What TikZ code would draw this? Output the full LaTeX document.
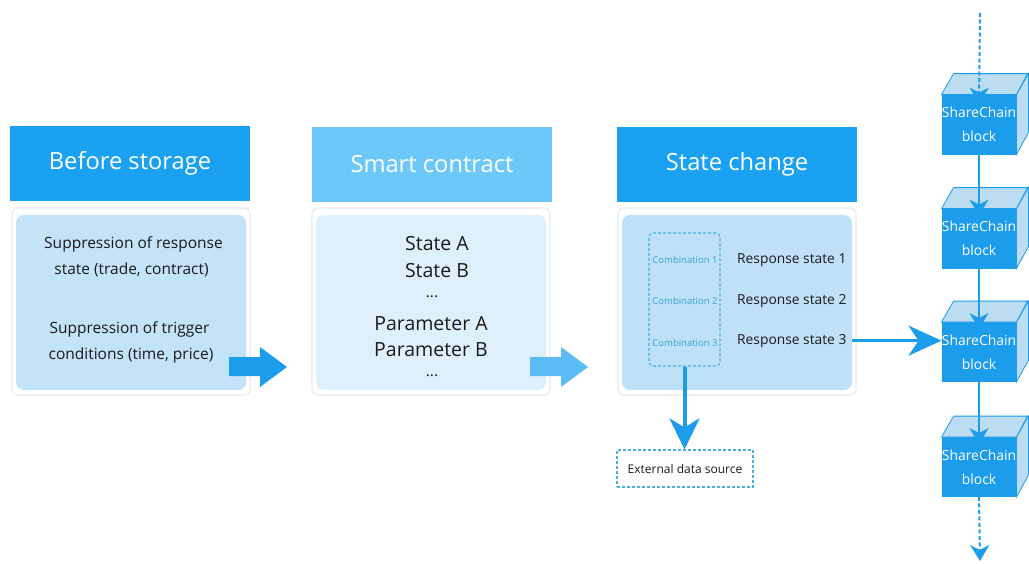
\documentclass[tikz,border=0pt]{standalone}
\usepackage{fontspec}
\setmainfont{Open Sans}
\usetikzlibrary{arrows.meta,calc}
\definecolor{hdrA}{HTML}{1BA1F1}
\definecolor{hdrB}{HTML}{6CC8F8}
\definecolor{inA}{HTML}{C3E3F8}
\definecolor{inB}{HTML}{DDF0FC}
\definecolor{inC}{HTML}{BFE1F7}
\definecolor{frameC}{HTML}{E6ECF1}
\definecolor{blueL}{HTML}{1C9DEB}
\definecolor{blueM}{HTML}{5BBDF3}
\definecolor{dashC}{HTML}{4AAEE0}
\definecolor{combC}{HTML}{3AA0D8}
\definecolor{cubeS}{HTML}{BCDCF2}
\definecolor{txt}{HTML}{1A1A1A}
\tikzset{
  hdr/.style={rectangle, inner sep=0pt, outer sep=0pt, minimum width=240pt, minimum height=75pt, text=white, font=\fontsize{23.7}{28}\selectfont},
  outerbox/.style={rectangle, rounded corners=6pt, draw=frameC, line width=1.2pt, fill=white, inner sep=0pt, minimum width=238pt, minimum height=187pt},
  innerbox/.style={rectangle, rounded corners=8pt, inner sep=0pt, minimum width=230pt, minimum height=175pt},
  bodyA/.style={anchor=base, inner sep=0pt, text=txt, font=\fontsize{15.5}{18}\selectfont},
  bodyB/.style={anchor=base, inner sep=0pt, text=txt, font=\fontsize{19.5}{22}\selectfont},
  resp/.style={anchor=base west, inner sep=0pt, text=txt, font=\fontsize{13.8}{16}\selectfont},
  comb/.style={anchor=base, inner sep=0pt, text=combC, font=\fontsize{9.5}{11}\selectfont},
  dashbox/.style={rectangle, draw=dashC, line width=1.1pt, dash pattern=on 3pt off 2pt},
  cubefront/.style={rectangle, fill=blueL, draw=blueL, line width=0.8pt, inner sep=0pt, minimum width=74pt, minimum height=59pt, text=white, align=center, font=\fontsize{13.9}{24}\selectfont},
  cubeface/.style={fill=cubeS, draw=blueL, line width=0.8pt},
  bigarrow/.style={draw=blueL, line width=3pt, -{Stealth[length=33pt,width=30pt,inset=10pt]}},
  chainarrow/.style={draw=blueL, line width=2pt, -{Stealth[length=16pt,width=19pt,inset=5pt]}},
  chaindash/.style={chainarrow, dash pattern=on 4pt off 2.5pt}
}
\begin{document}
\begin{tikzpicture}[x=1pt,y=-1pt]
\useasboundingbox (0,0) rectangle (1029,563);
\fill[white] (0,0) rectangle (1029,563);

% headers
\node[hdr, fill=hdrA] (h1) at (130,163.5) {Before storage};
\node[hdr, fill=hdrB] (h2) at (432,164) {Smart contract};
\node[hdr, fill=hdrA] (h3) at (737,164) {State change};

% content boxes
\node[outerbox] (o1) at (131,301.5) {};
\node[innerbox, fill=inA] (i1) at (131,302.5) {};
\node[outerbox] (o2) at (431,301.5) {};
\node[innerbox, fill=inB] (i2) at (431,302.5) {};
\node[outerbox] (o3) at (737,301.5) {};
\node[innerbox, fill=inC] (i3) at (737,302.5) {};

% box 1 text
\node[bodyA] (t11) at (133.5,248.5) {Suppression of response};
\node[bodyA] (t12) at (131.5,274) {state (trade, contract)};
\node[bodyA] (t13) at (129.5,333) {Suppression of trigger};
\node[bodyA] (t14) at (131,359.5) {conditions (time, price)};

% box 2 text
\node[bodyB] (t21) at (437,250) {State A};
\node[bodyB] (t22) at (437,277) {State B};
\node[bodyA] (t23) at (432,297) {...};
\node[bodyB] (t24) at (431,330) {Parameter A};
\node[bodyB] (t25) at (431,356) {Parameter B};
\node[bodyA] (t26) at (432,376) {...};

% box 3
\node[dashbox, rounded corners=4pt, inner sep=0pt, minimum width=71pt, minimum height=133pt] (combo) at (684.5,299.5) {};
\node[comb] (c1) at (685,263) {Combination 1};
\node[comb] (c2) at (685,304) {Combination 2};
\node[comb] (c3) at (685,346) {Combination 3};
\node[resp] (r1) at (737,263) {Response state 1};
\node[resp] (r2) at (737,304) {Response state 2};
\node[resp] (r3) at (737,344) {Response state 3};

% external data source
\node[dashbox, fill=white, inner sep=0pt, minimum width=136pt, minimum height=37pt, text=txt, font=\fontsize{12}{14}\selectfont] (ext) at (685,468.5) {External data source};

% block arrows
\fill[blueL] (229,357) -- (260,357) -- (260,347) -- (287,367) -- (260,387) -- (260,376) -- (229,376) -- cycle;
\fill[blueM] (530,357) -- (561,357) -- (561,347) -- (588,367) -- (561,387) -- (561,376) -- (530,376) -- cycle;

% cubes
\node[cubefront] (k1) at (979,124.5) {ShareChain\\block};
\node[cubefront] (k2) at (979,238.5) {ShareChain\\block};
\node[cubefront] (k3) at (979,352) {ShareChain\\block};
\node[cubefront] (k4) at (979,467) {ShareChain\\block};
\foreach \k in {k1,k2,k3,k4}{
  \filldraw[cubeface] (\k.north west) -- ++(12,-21) -- ++(74,0) -- (\k.north east) -- cycle;
  \filldraw[cubeface] (\k.north east) -- ++(12,-21) -- ++(0,59) -- (\k.south east) -- cycle;
}
\coordinate (topstart) at (980,13);
\coordinate (botend) at (980,561);
\draw[chaindash] (topstart) -- ([yshift=-9pt]k1.north);
\draw[chainarrow] (k1.south) -- ([yshift=-7pt]k2.north);
\draw[chainarrow] (k2.south) -- ([yshift=-7pt]k3.north);
\draw[chainarrow] (k3.south) -- ([yshift=-7pt]k4.north);
\draw[chaindash] (k4.south) -- (botend);

% connectors
\draw[bigarrow] ([xshift=5pt]r3.east) -- (r3.east -| k3.west);
\draw[draw=blueL, line width=4pt, -{Stealth[length=31pt,width=30pt,inset=9pt]}] (combo.south) -- (combo.south |- ext.north);
\end{tikzpicture}
\end{document}
